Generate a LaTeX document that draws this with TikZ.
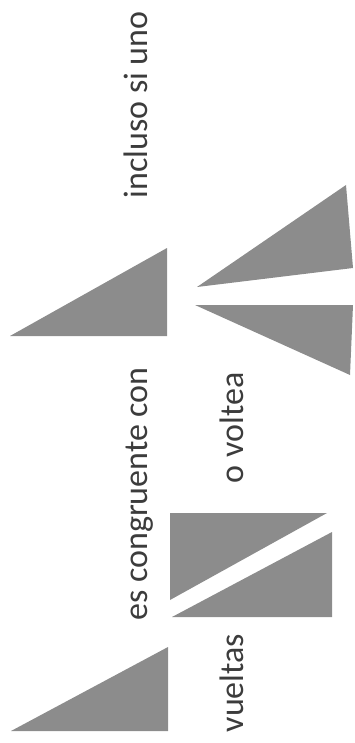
\documentclass[tikz,border=0pt]{standalone}
\usepackage{fontspec}
\setmainfont{Carlito}
\usepackage{xcolor}
\usepackage{tikz}
\definecolor{trigray}{RGB}{140,140,140}
\definecolor{txtgray}{RGB}{60,60,60}

\begin{document}
\begin{tikzpicture}[x=1pt, y=-1pt,
    tri/.style={fill=trigray, draw=none},
    lbl/.style={rotate=90, anchor=base, inner sep=0pt, text=txtgray, font=\fontsize{34}{40}\selectfont}
]
\useasboundingbox (0,0) rectangle (355,743);

\fill[tri] (11,731) -- (168,731) -- (168,647) -- cycle;
\fill[tri] (170,513) -- (327,513) -- (170,600) -- cycle;
\fill[tri] (332,532) -- (332,617) -- (172,617) -- cycle;
\fill[tri] (10,336) -- (167,336) -- (167,248) -- cycle;
\fill[tri] (346,185) -- (197,287) -- (353,268) -- cycle;
\fill[tri] (195,305) -- (353,305) -- (350,375) -- cycle;

\node[lbl] (incl) at (147,105) {incluso si uno};
\node[lbl] (cong) at (147,494) {es congruente con};
\node[lbl] (volt) at (243,428) {o voltea};
\node[lbl] (vuel) at (243,683) {vueltas};
\end{tikzpicture}
\end{document}
